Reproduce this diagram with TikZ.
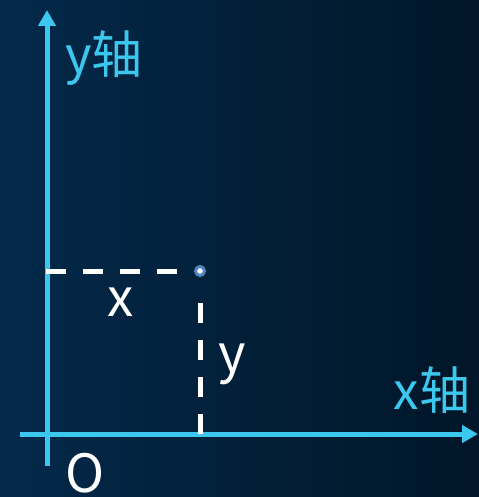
\documentclass[tikz,border=0pt]{standalone}
\usepackage{fontspec}
\setmainfont{Noto Sans CJK SC}
\usepackage{tikz}
\usetikzlibrary{arrows.meta,positioning,calc}
\definecolor{cBgL}{HTML}{03294A}
\definecolor{cBgR}{HTML}{011628}
\definecolor{cAxis}{HTML}{3CC8EE}
\definecolor{cDot}{HTML}{4E86BE}
\begin{document}
\begin{tikzpicture}[
  x=0.02cm, y=-0.02cm,
  axis/.style={cAxis, line width=0.1cm,
    -{Triangle[length=0.32cm, width=0.34cm]}},
  guide/.style={white, line width=0.1cm, dash pattern=on 0.4cm off 0.34cm},
  axlab/.style={text=cAxis, font=\fontsize{29}{29}\selectfont, inner sep=0pt, anchor=base},
  vlab/.style={text=white, font=\fontsize{30}{30}\selectfont, inner sep=0pt, anchor=base},
  dot/.style={circle, fill=white, draw=cDot, line width=0.06cm,
    inner sep=0pt, minimum size=0.18cm},
]
% ================================================================ background
\shade[left color=cBgL, right color=cBgR] (0,0) rectangle (479,497);
\useasboundingbox (0,0) rectangle (479,497);

% ================================================================ axes
\coordinate (ybot) at (47,466);
\coordinate (ytop) at (47,10);
\coordinate (xleft) at (20,434);
\coordinate (xright) at (478,434);
\draw[axis] (ybot) -- (ytop);
\draw[axis] (xleft) -- (xright);

% ================================================================ the point
\node[dot] (P) at (200,271) {};
\coordinate (Py) at (46,271);
\coordinate (Pyend) at (180,271);
\coordinate (Px) at (200,434);
\coordinate (Pxend) at (200,302);
\draw[guide] (Py) -- (Pyend);
\draw[guide] (Px) -- (Pxend);

% ================================================================ labels
\node[axlab] (ylab) at (104,73) {y轴};
\node[axlab] (xlab) at (432,409) {x轴};
\node[vlab] (olab) at (85,492) {O};
\node[vlab] (xval) at (121,316) {x};
\node[vlab] (yval) at (232,372) {y};
\end{tikzpicture}
\end{document}
